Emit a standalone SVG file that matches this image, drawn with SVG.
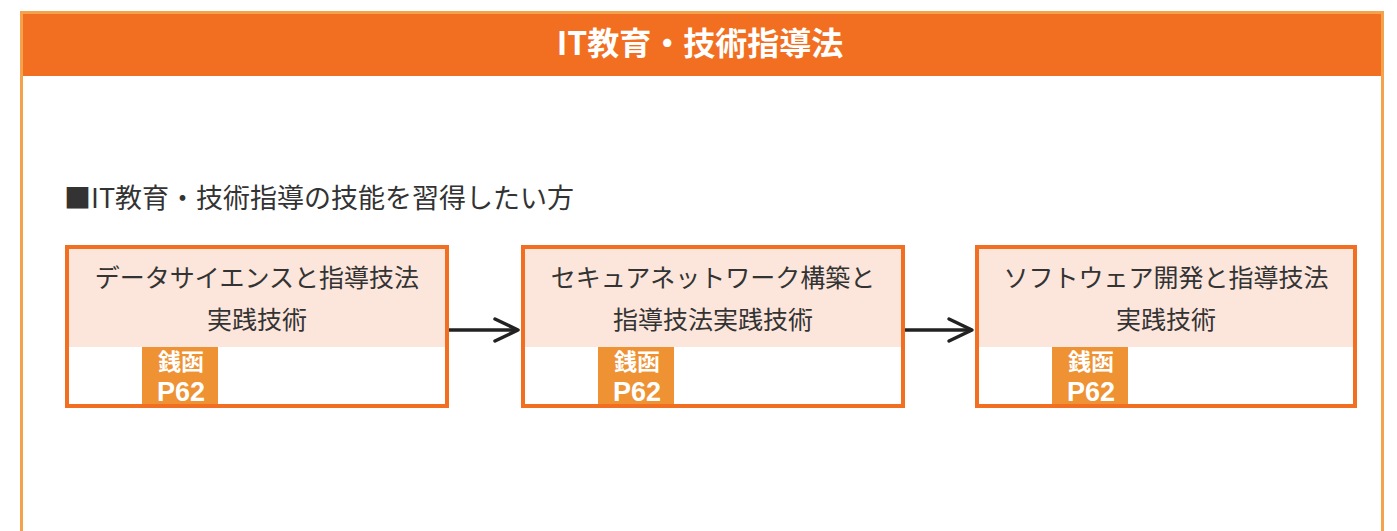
<svg xmlns="http://www.w3.org/2000/svg" width="1397" height="531" viewBox="0 0 1397 531">
<style>
.frame{fill:#fff;stroke:#F5A24C;stroke-width:3}
.hdr{fill:#F26F21}
.title{font-family:"Noto Sans CJK JP",sans-serif;font-weight:bold;font-size:32px;fill:#fff;text-anchor:middle}
.sub{font-family:"Noto Sans CJK JP",sans-serif;font-size:27px;fill:#333}
.box{fill:#fff;stroke:#F26F21;stroke-width:4}
.pink{fill:#FCE6DC}
.lbl{font-family:"Noto Sans CJK JP",sans-serif;font-size:25px;fill:#333;text-anchor:middle}
.badge{fill:#EE9234}
.bt{font-family:"Liberation Sans","Noto Sans CJK JP",sans-serif;font-weight:bold;fill:#fff;text-anchor:middle}
.conn{stroke:#222;stroke-width:3.5;fill:none}
</style>
<g id="frame">
<rect class="frame" x="21.5" y="12.5" width="1361" height="530"/>
<rect class="hdr" x="23" y="14" width="1358" height="62"/>
<text class="title" x="700" y="55">IT教育・技術指導法</text>
<text class="sub" x="64" y="208">■IT教育・技術指導の技能を習得したい方</text>
</g>
<g id="node1">
<rect class="box" x="67" y="247" width="380" height="159"/>
<rect class="pink" x="69" y="249" width="376" height="98"/>
<text class="lbl" x="257" y="287">データサイエンスと指導技法</text>
<text class="lbl" x="257" y="329">実践技術</text>
<rect class="badge" x="142" y="347" width="76" height="57"/>
<text class="bt" x="181" y="370" font-size="23">銭函</text>
<text class="bt" x="181" y="401" font-size="27">P62</text>
</g>
<g id="node2">
<rect class="box" x="523" y="247" width="380" height="159"/>
<rect class="pink" x="525" y="249" width="376" height="98"/>
<text class="lbl" x="713" y="287">セキュアネットワーク構築と</text>
<text class="lbl" x="713" y="329">指導技法実践技術</text>
<rect class="badge" x="598" y="347" width="76" height="57"/>
<text class="bt" x="637" y="370" font-size="23">銭函</text>
<text class="bt" x="637" y="401" font-size="27">P62</text>
</g>
<g id="node3">
<rect class="box" x="977" y="247" width="378" height="159"/>
<rect class="pink" x="979" y="249" width="374" height="98"/>
<text class="lbl" x="1166" y="287">ソフトウェア開発と指導技法</text>
<text class="lbl" x="1166" y="329">実践技術</text>
<rect class="badge" x="1052" y="347" width="76" height="57"/>
<text class="bt" x="1091" y="370" font-size="23">銭函</text>
<text class="bt" x="1091" y="401" font-size="27">P62</text>
</g>
<g id="connectors">
<line class="conn" x1="449" y1="330" x2="518" y2="330"/>
<path d="M495,319 L518,330 L495,341" class="conn" stroke-linecap="round" stroke-linejoin="round"/>
<line class="conn" x1="905" y1="330" x2="972" y2="330"/>
<path d="M949,319 L972,330 L949,341" class="conn" stroke-linecap="round" stroke-linejoin="round"/>
</g>
</svg>
